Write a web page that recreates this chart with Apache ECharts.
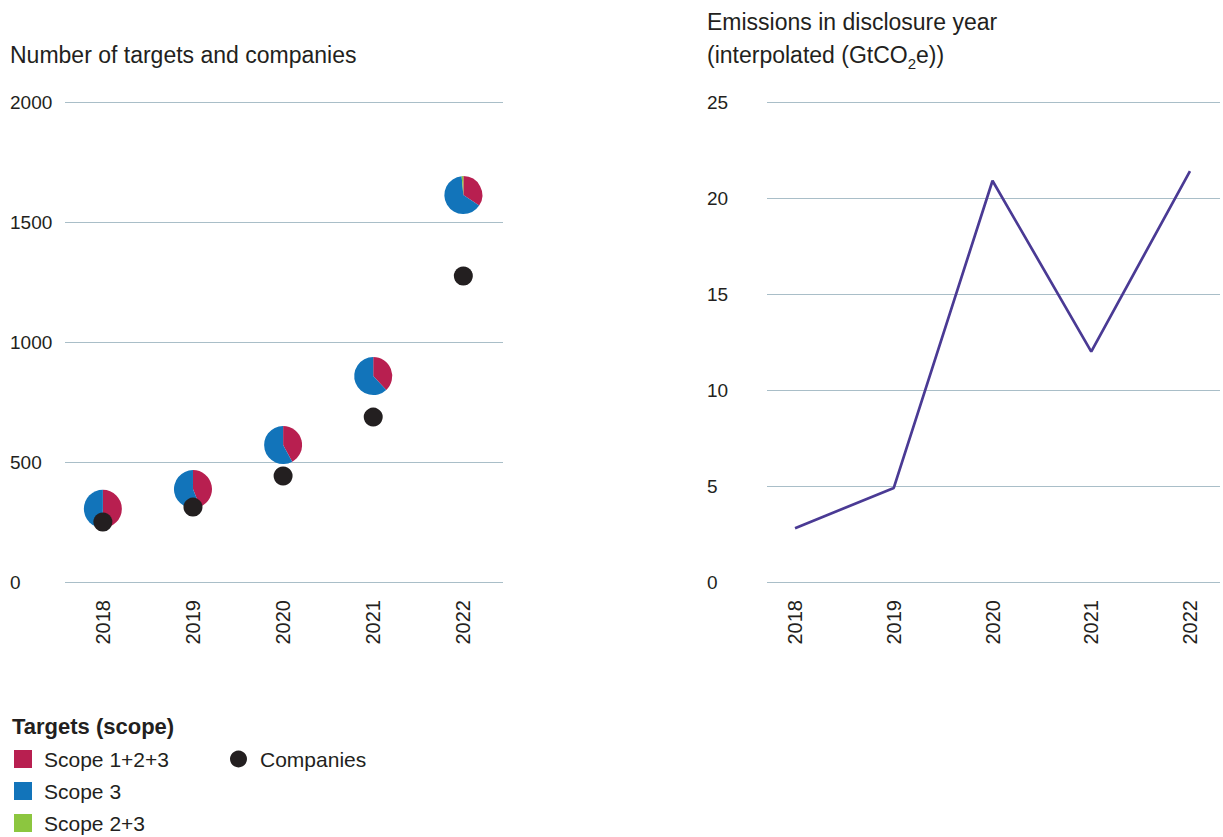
<!DOCTYPE html>
<html>
<head>
<meta charset="utf-8">
<script src="https://cdn.jsdelivr.net/npm/echarts@6/dist/echarts.min.js"></script>
<style>
html,body{margin:0;padding:0;background:#fff;}
#chart{width:1223px;height:837px;}
</style>
</head>
<body>
<div id="chart"></div>
<script>
// ---- data ----
const years = [2018, 2019, 2020, 2021, 2022];
const scope123 = [153, 170, 240, 326, 553];
const scope3 = [152, 217, 331, 532, 1036];
const scope23 = [0, 0, 0, 0, 23];
const companies = [250, 312, 442, 687, 1275];
const emissions = [2.8, 4.9, 20.9, 12.0, 21.4];
const leftTicks = [0, 500, 1000, 1500, 2000];
const rightTicks = [0, 5, 10, 15, 20, 25];
const scopeNames = ['Scope 1+2+3', 'Scope 3', 'Scope 2+3'];
const scopeColors = ['#B81F50', '#1274BA', '#8CC63F'];
const companiesName = 'Companies';

const FONT = 'Liberation Sans';
const TXT = '#231F20';
const GRIDLINE = '#A9BEC8';
const DOT = '#231F20';

const scopes = [scope123, scope3, scope23];
const totals = years.map((y, i) => scopes.reduce((s, a) => s + a[i], 0));

function pieSeries(k) {
  const data = years.map((y, i) => {
    let before = 0;
    for (let j = 0; j < k; j++) before += scopes[j][i];
    return [y, totals[i], before, scopes[k][i]];
  });
  return {
    type: 'custom',
    name: scopeNames[k],
    xAxisIndex: 0, yAxisIndex: 0,
    itemStyle: { color: scopeColors[k] },
    z: 2,
    data: data,
    renderItem: function (params, api) {
      const tot = api.value(1);
      const before = api.value(2);
      const v = api.value(3);
      if (!v) return null;
      const c = api.coord([api.value(0), tot]);
      const a0 = -Math.PI / 2 + 2 * Math.PI * before / tot;
      const a1 = a0 + 2 * Math.PI * v / tot;
      return {
        type: 'sector',
        shape: { cx: c[0], cy: c[1], r: 19, r0: 0, startAngle: a0, endAngle: a1, clockwise: true },
        style: { fill: api.visual('color') }
      };
    }
  };
}

const intLabel = v => (Math.abs(v - Math.round(v)) < 1e-6 ? String(Math.round(v)) : '');
const plainLabel = v => String(v);

// legend drawn as graphic elements
const legendGraphics = [];
scopeNames.forEach((n, k) => {
  const cy = 759 + k * 32;
  legendGraphics.push({ type: 'rect', shape: { x: 14, y: cy - 9, width: 18, height: 18 }, style: { fill: scopeColors[k] } });
  legendGraphics.push({ type: 'text', x: 44, y: cy, style: { text: n, fill: TXT, font: '21px "' + FONT + '"', verticalAlign: 'middle', align: 'left' } });
});
legendGraphics.push({ type: 'circle', shape: { cx: 238.5, cy: 759, r: 8.5 }, style: { fill: DOT } });
legendGraphics.push({ type: 'text', x: 260, y: 759, style: { text: companiesName, fill: TXT, font: '21px "' + FONT + '"', verticalAlign: 'middle', align: 'left' } });

const chart = echarts.init(document.getElementById('chart'), null, { renderer: 'svg' });
chart.setOption({
  animation: false,
  backgroundColor: '#ffffff',
  textStyle: { fontFamily: FONT, color: TXT },
  title: [
    { text: 'Number of targets and companies', left: 10, top: 43, padding: 0,
      textStyle: { fontFamily: FONT, fontSize: 23, fontWeight: 'normal', color: TXT } },
    { text: 'Emissions in disclosure year\n(interpolated (GtCO{sub|2}e))', left: 707, top: 5, padding: 0,
      textStyle: { fontFamily: FONT, fontSize: 23, fontWeight: 'normal', color: TXT, lineHeight: 33,
        rich: { sub: { fontSize: 15, verticalAlign: 'bottom', padding: [14, 0, 0, 0], fontFamily: FONT, color: TXT, lineHeight: 33 } } } },
    { text: 'Targets (scope)', left: 12, top: 715, padding: 0,
      textStyle: { fontFamily: FONT, fontSize: 22, fontWeight: 'bold', color: TXT } }
  ],
  graphic: legendGraphics,
  grid: [
    { left: 65, top: 102, width: 438, height: 480 },
    { left: 767, top: 102, width: 453, height: 480 }
  ],
  xAxis: [
    { gridIndex: 0, type: 'value', min: years[0] - 0.42, max: years[years.length - 1] + 0.44,
      splitLine: { show: false }, axisLine: { show: false }, axisTick: { show: false },
      axisLabel: { rotate: 90, margin: 18, fontSize: 20, fontFamily: FONT, color: TXT, formatter: intLabel,
        showMinLabel: false, showMaxLabel: false } },
    { gridIndex: 1, type: 'value', min: years[0] - 0.284, max: years[years.length - 1] + 0.304,
      splitLine: { show: false }, axisLine: { show: false }, axisTick: { show: false },
      axisLabel: { rotate: 90, margin: 18, fontSize: 20, fontFamily: FONT, color: TXT, formatter: intLabel,
        showMinLabel: false, showMaxLabel: false } }
  ],
  yAxis: [
    { gridIndex: 0, type: 'value', min: leftTicks[0], max: leftTicks[leftTicks.length - 1], interval: 500,
      axisLine: { show: false }, axisTick: { show: false },
      splitLine: { lineStyle: { color: GRIDLINE, width: 1 } },
      axisLabel: { align: 'left', margin: 55, fontSize: 19, fontFamily: FONT, color: TXT, formatter: plainLabel } },
    { gridIndex: 1, type: 'value', min: rightTicks[0], max: rightTicks[rightTicks.length - 1], interval: 5,
      axisLine: { show: false }, axisTick: { show: false },
      splitLine: { lineStyle: { color: GRIDLINE, width: 1 } },
      axisLabel: { align: 'left', margin: 60, fontSize: 19, fontFamily: FONT, color: TXT, formatter: plainLabel } }
  ],
  series: [
    pieSeries(0), pieSeries(1), pieSeries(2),
    { type: 'scatter', name: companiesName, xAxisIndex: 0, yAxisIndex: 0, z: 5,
      symbol: 'circle', symbolSize: 19, itemStyle: { color: DOT, opacity: 1 },
      data: years.map((y, i) => [y, companies[i]]) },
    { type: 'line', name: 'Emissions', xAxisIndex: 1, yAxisIndex: 1,
      showSymbol: false, lineStyle: { color: '#4A3A94', width: 2.7 }, itemStyle: { color: '#4A3A94' },
      data: years.map((y, i) => [y, emissions[i]]) }
  ]
});
</script>
</body>
</html>
